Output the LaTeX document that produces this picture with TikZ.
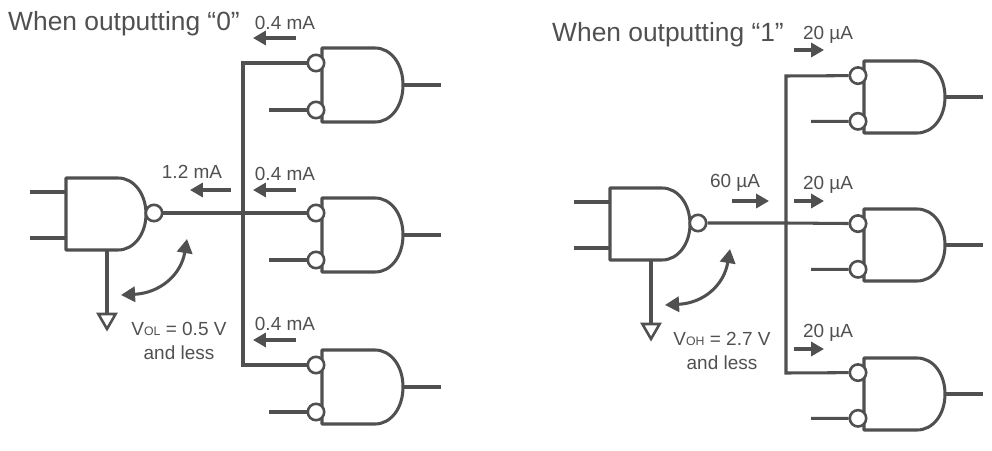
\documentclass[tikz,border=0pt]{standalone}
\usepackage{fontspec}
\setmainfont{Liberation Sans}
\usetikzlibrary{arrows.meta,shapes.geometric}
\definecolor{ink}{HTML}{505050}
\tikzset{
	trace/.style={draw=ink,line width=2.6pt},
	gateline/.style={draw=ink,line width=2.6pt},
	bub/.style={circle,draw=ink,line width=2.2pt,fill=white,minimum size=14pt,inner sep=0pt},
	cur/.style={draw=ink,line width=2.6pt,-{Triangle[length=11pt,width=12pt]}},
	swing/.style={draw=ink,line width=2.6pt,{Triangle[length=12pt,width=13pt]}-{Triangle[length=12pt,width=13pt]}},
	amp/.style={text=ink,font=\fontsize{16.2}{18}\selectfont,inner sep=0pt},
	title/.style={text=ink,font=\fontsize{22.5}{26}\selectfont,inner sep=0pt,anchor=west},
	recv/.pic={
		\draw[gateline,line join=round] (0,0) -- (53,0) .. controls (69,0) and (81,16) .. (81,37) .. controls (81,58) and (69,74) .. (53,74) -- (0,74) -- cycle;
		\node[bub] (-a) at (-6,15) {};
		\node[bub] (-b) at (-6,62) {};
		\coordinate (-c) at (81,37);
		\coordinate (-d) at (119,37);
		\coordinate (-e) at (-53,62);
		\draw[trace] (-c) -- (-d);
		\draw[trace] (-e) -- (-b);
	},
	drv/.pic={
		\draw[gateline,line join=round] (0,0) -- (52,0) .. controls (68,0) and (80,16) .. (80,36) .. controls (80,56) and (68,72) .. (52,72) -- (0,72) -- cycle;
		\node[bub] (-o) at (88,35) {};
		\coordinate (-a) at (-36,14);
		\coordinate (-b) at (-36,60);
		\coordinate (-p) at (0,14);
		\coordinate (-q) at (0,60);
		\coordinate (-g) at (41,72);
		\node[draw=ink,line width=2.2pt,regular polygon,regular polygon sides=3,shape border rotate=180,minimum size=17pt,inner sep=0pt] (-t) at (41,141) {};
		\draw[trace] (-a) -- (-p);
		\draw[trace] (-b) -- (-q);
		\draw[trace] (-g) -- (-t.north);
	}
}
\begin{document}
\begin{tikzpicture}[x=.03cm,y=-.03cm]
	\useasboundingbox (0,0) rectangle (992,450);
	% left half, output low
	\node[title] (titleL) at (8,24) {When outputting “0”};
	\pic (dL) at (66,178) {drv};
	\pic (rLa) at (322,48) {recv};
	\pic (rLb) at (322,198) {recv};
	\pic (rLc) at (322,350) {recv};
	\coordinate (jL) at (243,213);
	\coordinate (cLa) at (243,63);
	\coordinate (cLc) at (243,365);
	\draw[trace] (dL-o) -- (jL) -- (rLb-a);
	\draw[trace,line join=miter] (rLa-a) -- (cLa) -- (cLc) -- (rLc-a);
	\node[amp] (aLa) at (285,23) {0.4 mA};
	\node[amp] (aLb) at (285,174) {0.4 mA};
	\node[amp] (aLc) at (285,324) {0.4 mA};
	\node[amp] (aLd) at (192,172) {1.2 mA};
	\coordinate (sLa) at (296,38);
	\coordinate (sLb) at (296,190);
	\coordinate (sLc) at (296,340);
	\coordinate (sLd) at (231,190);
	\draw[cur] (sLa) -- ++(-43,0);
	\draw[cur] (sLb) -- ++(-43,0);
	\draw[cur] (sLc) -- ++(-43,0);
	\draw[cur] (sLd) -- ++(-41,0);
	\coordinate (wLa) at (121,295);
	\coordinate (wLb) at (187,239);
	\draw[swing] (wLa) .. controls (160,293) and (181,275) .. (wLb);
	\node[amp,align=center] (vL) at (179,341) {V{\fontsize{10.5}{11}\selectfont OL} = 0.5 V\\[3pt]and less};
	% right half, output high
	\node[title] (titleR) at (552,35) {When outputting “1”};
	\pic (dR) at (610,188) {drv};
	\pic[yscale=.973] (rRa) at (864,61) {recv};
	\pic[yscale=.973] (rRb) at (864,209) {recv};
	\pic[yscale=.973] (rRc) at (864,358) {recv};
	\coordinate (jR) at (786,223);
	\coordinate (cRa) at (786,76);
	\coordinate (cRc) at (786,373);
	\draw[trace] (dR-o) -- (jR) -- (rRb-a);
	\draw[trace,line join=miter] (rRa-a) -- (cRa) -- (cRc) -- (rRc-a);
	\node[amp] (aRa) at (828,35) {20 µA};
	\node[amp] (aRb) at (828,185) {20 µA};
	\node[amp] (aRc) at (828,333) {20 µA};
	\node[amp] (aRd) at (735,183) {60 µA};
	\coordinate (sRa) at (794,50);
	\coordinate (sRb) at (794,201);
	\coordinate (sRc) at (794,349);
	\coordinate (sRd) at (732,201);
	\draw[cur] (sRa) -- ++(30,0);
	\draw[cur] (sRb) -- ++(30,0);
	\draw[cur] (sRc) -- ++(30,0);
	\draw[cur] (sRd) -- ++(37,0);
	\coordinate (wRa) at (665,305);
	\coordinate (wRb) at (730,249);
	\draw[swing] (wRa) .. controls (704,303) and (724,285) .. (wRb);
	\node[amp,align=center] (vR) at (722,351) {V{\fontsize{10.5}{11}\selectfont OH} = 2.7 V\\[3pt]and less};
\end{tikzpicture}
\end{document}
